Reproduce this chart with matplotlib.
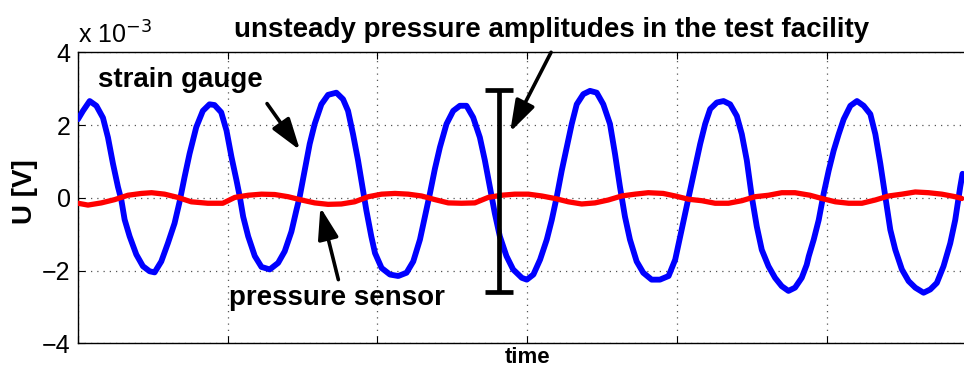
import matplotlib
matplotlib.use("Agg")
import matplotlib.pyplot as plt

plt.rcParams['font.family'] = ['Liberation Sans', 'DejaVu Sans']

# ---- data (values in units of 1e-3 V, time in arbitrary units) ----
strain_t = [0.3, 5.3, 12, 18.7, 25.3, 30.3, 35.3, 40.3, 43.7, 47, 52, 58.7, 65.3, 72, 77,
            83.7, 90.3, 97, 102, 107, 112, 118.7, 125.3, 132, 137, 143.7, 149, 154, 159,
            162.3, 165.7, 170.7, 177.3, 184, 192.3, 200.7, 207.3, 214, 219, 222.3, 227.3,
            232.3, 237.3, 244, 250.7, 259, 265.7, 270.7, 275.7, 280.7, 285.7, 289, 294,
            297.7, 304.3, 312.7, 321, 329.3, 336, 342.7, 347.7, 352.7, 357.7, 362.7, 369.3,
            376, 382.7, 389.3, 396, 402.7, 407.7, 412.7, 417.7, 422.7, 429.3, 436, 441,
            444.7, 449.7, 456.3, 463, 469.7, 474.7, 479.7, 484.7, 489.7, 494.7, 499.7,
            506.3, 513, 519.7, 526.3, 533, 538, 543, 548, 553, 559.7, 566.3, 574.7, 583,
            591.7, 598.3, 603.3, 608.3, 613.3, 618.3, 623.3, 628.3, 633.3, 640, 646.7,
            653.3, 660, 665, 670, 675, 680, 685, 691.7, 698.3, 705, 711.7, 718.3, 725,
            730, 732, 737, 742, 747, 752, 757, 762, 767, 773.7, 780.3, 787, 793.7, 798.7,
            803.7, 808.7, 813.7, 818.7, 825.3, 832, 838.7, 847, 853.7, 860.3, 867, 873.7,
            878.7, 883.7, 886]
strain_v = [2.16, 2.39, 2.66, 2.53, 2.2, 1.66, 0.94, 0.3, -0.06, -0.6, -1.06, -1.56, -1.88,
            -2.02, -2.05, -1.75, -1.25, -0.7, -0.11, 0.57, 1.21, 1.94, 2.39, 2.57, 2.55,
            2.35, 1.85, 1.12, 0.48, 0.03, -0.52, -1.06, -1.6, -1.9, -1.97, -1.79, -1.47,
            -0.93, -0.34, 0.03, 0.75, 1.48, 2.03, 2.57, 2.83, 2.89, 2.71, 2.39, 1.75, 1.03,
            0.21, -0.34, -1.06, -1.52, -1.93, -2.11, -2.15, -2.06, -1.75, -1.15, -0.52,
            0.12, 0.8, 1.39, 2.03, 2.39, 2.53, 2.53, 2.21, 1.66, 1.03, 0.3, -0.43, -1.06,
            -1.6, -1.97, -2.1, -2.2, -2.25, -2.11, -1.7, -1.15, -0.61, 0.03, 0.75, 1.39,
            2.03, 2.57, 2.85, 2.94, 2.89, 2.57, 2.03, 1.21, 0.3, -0.52, -1.15, -1.75,
            -2.06, -2.25, -2.25, -2.15, -1.7, -1.06, -0.43, 0.21, 0.85, 1.48, 2.03, 2.44,
            2.62, 2.66, 2.57, 2.25, 1.75, 1.03, 0.03, -0.79, -1.43, -1.88, -2.2, -2.43,
            -2.56, -2.47, -2.2, -1.84, -1.61, -1.15, -0.61, 0.12, 0.75, 1.3, 1.75, 2.16,
            2.53, 2.66, 2.53, 2.3, 1.75, 0.94, 0.03, -0.88, -1.43, -1.97, -2.29, -2.47,
            -2.61, -2.52, -2.34, -1.88, -1.25, -0.61, 0.3, 0.66]

press_t = [0.3, 10.3, 23.7, 37, 50.3, 63.7, 74, 87, 100.3, 113.7, 130.3, 145.3, 157.3,
           170.7, 184, 197.3, 210.7, 224, 237.3, 250.7, 264, 277.3, 291, 304.3, 317.7,
           331, 344.3, 357.7, 371, 384.3, 397.7, 411, 424.3, 437.7, 451.3, 464.7, 478,
           491.3, 504.7, 518, 531.3, 544.7, 558, 571.3, 586.3, 598.3, 611.7, 625, 638.3,
           651.7, 665, 678.3, 691.7, 705, 718.3, 733.3, 745.3, 758.7, 772, 785.3, 798.7,
           812, 825.3, 838.7, 852, 865.3, 878.7, 885.3]
press_v = [-0.15, -0.2, -0.14, -0.05, 0.07, 0.12, 0.14, 0.1, 0.01, -0.11, -0.15, -0.15,
           0.01, 0.07, 0.1, 0.09, 0.03, -0.06, -0.14, -0.18, -0.17, -0.11, 0.03, 0.1,
           0.12, 0.1, 0.05, -0.05, -0.14, -0.15, -0.14, 0.01, 0.07, 0.1, 0.1, 0.05,
           -0.02, -0.11, -0.17, -0.14, -0.06, 0.05, 0.1, 0.14, 0.12, 0.05, -0.04, -0.08,
           -0.15, -0.15, -0.08, 0.03, 0.07, 0.14, 0.14, 0.07, -0.02, -0.11, -0.15, -0.15,
           -0.06, 0.05, 0.1, 0.16, 0.14, 0.1, 0.03, -0.02]

amp_t = 422
amp_top, amp_bottom = 2.95, -2.6

xticks = [0, 150, 300, 450, 600, 750, 900]
yticks = [-4, -2, 0, 2, 4]

# ---- figure ----
W, H = 964, 373
fig = plt.figure(figsize=(W / 100, H / 100), dpi=100)
ax = fig.add_axes([77.7 / W, 1 - 343.3 / H, 898.8 / W, 291.0 / H])

ax.plot(strain_t, strain_v, color='#0000ff', lw=4.2, solid_capstyle='round',
        solid_joinstyle='round', zorder=3)
ax.plot(press_t, press_v, color='#ff0000', lw=3.8, solid_capstyle='round',
        solid_joinstyle='round', zorder=4)

ax.set_xlim(0, 900)
ax.set_ylim(-4, 4)
ax.set_xticks(xticks)
ax.set_xticklabels([])
ax.set_yticks(yticks)
ax.set_yticklabels([str(v).replace('-', '\u2212') for v in yticks], fontsize=18)
ax.tick_params(direction='in', length=5, width=0.8, top=True, right=True, pad=5)
ax.grid(True, color='#555555', linestyle=(0, (1, 4)), lw=0.9)
for s in ax.spines.values():
    s.set_linewidth(1.0)

ax.set_ylabel('U [V]', fontsize=20, fontweight='bold')
ax.yaxis.set_label_coords((38 - 77.7) / 898.8, 0.52)
ax.set_xlabel('time', fontsize=16, fontweight='bold')
ax.xaxis.set_label_coords(0.5, -(347 - 343.3) / 291)

fig.text(78 / W, 1 - 44 / H, r'x 10$^{-3}$', fontsize=18, ha='left', va='baseline')

# amplitude bar
ax.plot([amp_t, amp_t], [amp_bottom, amp_top], color='black', lw=3.4, zorder=5,
        solid_capstyle='butt')
for yv in (amp_top, amp_bottom):
    ax.plot([amp_t - 14, amp_t + 14], [yv, yv], color='black', lw=3.4, zorder=5,
            solid_capstyle='butt')

arrow = dict(arrowstyle='-|>,head_length=0.8,head_width=0.26', color='black', lw=2.6,
             mutation_scale=24, shrinkA=0, shrinkB=0)
ax.annotate('', xy=(222.6, 1.31), xytext=(189.6, 2.59), arrowprops=arrow, zorder=6)
ax.annotate('', xy=(243, -0.26), xytext=(261, -2.25), arrowprops=arrow, zorder=6)
ax.annotate('', xy=(433, 1.81), xytext=(474, 4.0), arrowprops=arrow, zorder=6,
            annotation_clip=False)

ax.text(103, 3.23, 'strain gauge', fontsize=20, fontweight='bold', ha='center',
        va='center', zorder=7)
ax.text(260, -2.76, 'pressure sensor', fontsize=20, fontweight='bold', ha='center',
        va='center', zorder=7)
ax.text(474, 4.6, 'unsteady pressure amplitudes in the test facility', fontsize=20,
        fontweight='bold', ha='center', va='center', clip_on=False, zorder=7)

fig.savefig('out.png', dpi=100)
